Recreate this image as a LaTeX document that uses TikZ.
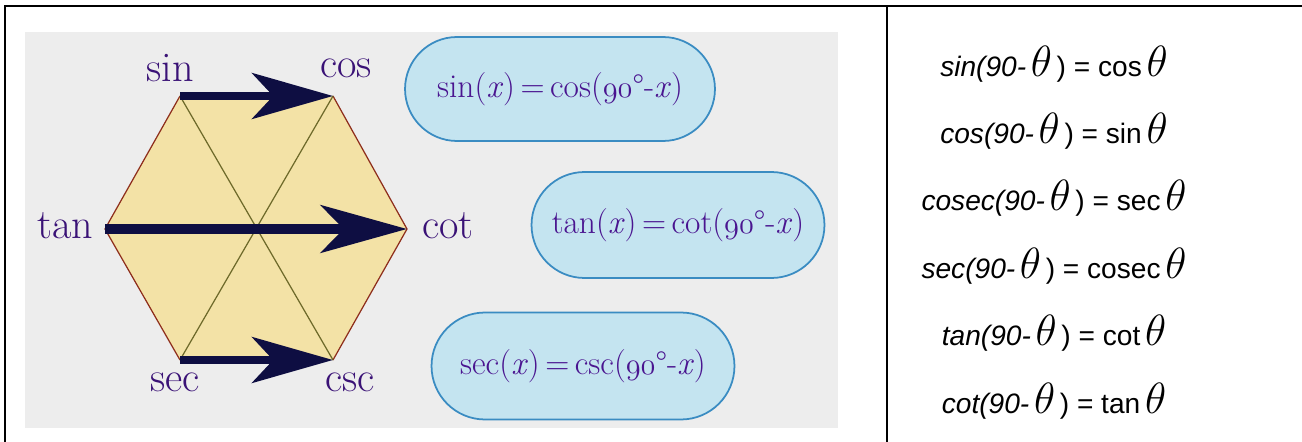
\documentclass[tikz,border=0pt]{standalone}
\usepackage{fontspec}
\newfontfamily\arialf{Liberation Sans}
\usetikzlibrary{arrows.meta,shapes.misc}
\definecolor{panelgrey}{HTML}{EDEDED}
\definecolor{hexfill}{HTML}{F3E2A6}
\definecolor{hexedge}{HTML}{8E2E1C}
\definecolor{hexdiag}{HTML}{6E6A2A}
\definecolor{arrowblue}{HTML}{0E0E42}
\definecolor{lblpurple}{HTML}{3A1276}
\definecolor{ovtext}{HTML}{4A1590}
\definecolor{ovfill}{HTML}{C4E4F0}
\definecolor{ovedge}{HTML}{3A8CC2}
\newcommand{\osn}[1]{{\usefont{OML}{cmm}{m}{it}#1}}
\newcommand{\bigth}{{\fontsize{24}{24}\selectfont$\theta$}}
\newcommand{\relline}[2]{{\arialf\fontsize{16}{18}\selectfont\textit{#1(90-}\,\bigth\,) = #2\,\bigth}}
\tikzset{
  lbl/.style={text=lblpurple,font=\fontsize{24}{24}\selectfont,inner sep=0pt},
  oval/.style={rounded rectangle,draw=ovedge,line width=1pt,fill=ovfill,text=ovtext,
    font=\fontsize{19}{21}\selectfont,inner sep=0pt},
  bigarrow/.style={draw=arrowblue,line width=5pt,
    -{Stealth[length=46pt,width=26pt,inset=12pt,fill=arrowblue]}},
  relt/.style={inner sep=0pt,anchor=center},
  outer/.style={draw=black,line width=1.2pt}
}
\begin{document}
\begin{tikzpicture}[x=0.02cm,y=-0.02cm]
\useasboundingbox (0,0) rectangle (1302,442);
\fill[white] (0,0) rectangle (1302,442);
% table lines
\draw[outer] (5,442) -- (5,6) -- (1302,6);
\draw[outer] (887,6) -- (887,442);
% grey panel
\fill[panelgrey] (25,32) rectangle (838,428);
% hexagon vertices
\coordinate (vsin) at (180,96);
\coordinate (vcos) at (333,96);
\coordinate (vtan) at (105,229);
\coordinate (vcot) at (407,229);
\coordinate (vsec) at (180,360);
\coordinate (vcsc) at (333,360);
\fill[hexfill] (vsin) -- (vcos) -- (vcot) -- (vcsc) -- (vsec) -- (vtan) -- cycle;
\draw[hexedge,line width=0.7pt] (vsin) -- (vtan) -- (vsec);
\draw[hexedge,line width=0.7pt] (vcos) -- (vcot) -- (vcsc);
\draw[hexdiag,line width=0.7pt] (vsin) -- (vcsc);
\draw[hexdiag,line width=0.7pt] (vcos) -- (vsec);
% arrows
\draw[bigarrow] (vsin) -- (vcos);
\draw[bigarrow,line width=6pt,-{Stealth[length=49pt,width=27pt,inset=13pt,fill=arrowblue]}] (vtan) -- (vcot);
\draw[bigarrow] (vsec) -- (vcsc);
% labels
\node[lbl] (lsin) at (170,68) {sin};
\node[lbl] (lcos) at (346,68) {cos};
\node[lbl] (ltan) at (65,226) {tan};
\node[lbl] (lcot) at (448,226) {cot};
\node[lbl] (lsec) at (175,382) {sec};
\node[lbl] (lcsc) at (350,382) {csc};
% ovals
\node[oval,minimum width=6.2cm,minimum height=2.08cm] (o1) at (560,89)
  {sin(\textit{x})\,=\,cos(\osn{90}°-\textit{x})};
\node[oval,minimum width=5.86cm,minimum height=2.12cm] (o2) at (678,225)
  {tan(\textit{x})\,=\,cot(\osn{90}°-\textit{x})};
\node[oval,minimum width=6.06cm,minimum height=2.14cm] (o3) at (583,366)
  {sec(\textit{x})\,=\,csc(\osn{90}°-\textit{x})};
% right column
\node[relt] (r1) at (1054,64) {\relline{sin}{cos}};
\node[relt] (r2) at (1054,131) {\relline{cos}{sin}};
\node[relt] (r3) at (1054,198) {\relline{cosec}{sec}};
\node[relt] (r4) at (1054,266) {\relline{sec}{cosec}};
\node[relt] (r5) at (1054,333) {\relline{tan}{cot}};
\node[relt] (r6) at (1054,401) {\relline{cot}{tan}};
\end{tikzpicture}
\end{document}
